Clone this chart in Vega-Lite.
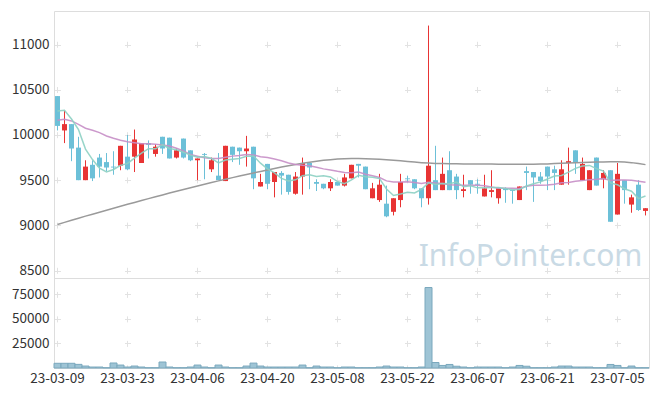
{
  "$schema": "https://vega.github.io/schema/vega-lite/v6.json",
  "padding": {"left": 0, "top": 10, "right": 9, "bottom": 0},
  "background": "white",
  "spacing": 0,
  "bounds": "flush",
  "config": {
    "view": {"stroke": "#dddddd"},
    "axis": {"labelFont": "Noto Sans CJK KR", "labelFontSize": 13.5, "labelColor": "#333333", "ticks": false, "domain": false, "title": null, "gridColor": "#e2e2e2", "gridWidth": 1}
  },
  "datasets": {
    "d": [
      {"d":"23-03-09","o":10430,"h":10430,"l":10050,"c":10100,"v":4800,"ma5":10265,"ma20":10162,"ma60":9010},
      {"d":"23-03-10","o":10050,"h":10270,"l":9910,"c":10120,"v":4800,"ma5":10273,"ma20":10173,"ma60":9033},
      {"d":"23-03-13","o":10120,"h":10120,"l":9710,"c":9850,"v":4800,"ma5":10176,"ma20":10155,"ma60":9056},
      {"d":"23-03-14","o":9860,"h":9980,"l":9500,"c":9500,"v":3700,"ma5":10059,"ma20":10118,"ma60":9079},
      {"d":"23-03-15","o":9500,"h":9720,"l":9500,"c":9650,"v":2000,"ma5":9844,"ma20":10074,"ma60":9102},
      {"d":"23-03-16","o":9670,"h":9720,"l":9490,"c":9520,"v":1000,"ma5":9728,"ma20":10052,"ma60":9124},
      {"d":"23-03-17","o":9750,"h":9790,"l":9530,"c":9650,"v":1000,"ma5":9632,"ma20":10026,"ma60":9146},
      {"d":"23-03-20","o":9700,"h":9800,"l":9600,"c":9640,"v":300,"ma5":9590,"ma20":9989,"ma60":9168},
      {"d":"23-03-21","o":9650,"h":9820,"l":9560,"c":9640,"v":5100,"ma5":9618,"ma20":9963,"ma60":9190},
      {"d":"23-03-22","o":9660,"h":9880,"l":9610,"c":9880,"v":3000,"ma5":9664,"ma20":9941,"ma60":9212},
      {"d":"23-03-23","o":9760,"h":10000,"l":9610,"c":9620,"v":1000,"ma5":9685,"ma20":9926,"ma60":9233},
      {"d":"23-03-24","o":9760,"h":10060,"l":9590,"c":9950,"v":2000,"ma5":9744,"ma20":9915,"ma60":9254},
      {"d":"23-03-27","o":9690,"h":9910,"l":9690,"c":9910,"v":1000,"ma5":9798,"ma20":9904,"ma60":9275},
      {"d":"23-03-28","o":9910,"h":9940,"l":9740,"c":9890,"v":300,"ma5":9848,"ma20":9904,"ma60":9296},
      {"d":"23-03-29","o":9790,"h":9900,"l":9760,"c":9870,"v":300,"ma5":9847,"ma20":9897,"ma60":9317},
      {"d":"23-03-30","o":9980,"h":9980,"l":9790,"c":9850,"v":6100,"ma5":9892,"ma20":9889,"ma60":9337},
      {"d":"23-03-31","o":9970,"h":9970,"l":9740,"c":9740,"v":1000,"ma5":9851,"ma20":9878,"ma60":9357},
      {"d":"23-04-03","o":9750,"h":9850,"l":9740,"c":9830,"v":300,"ma5":9836,"ma20":9853,"ma60":9377},
      {"d":"23-04-04","o":9960,"h":9960,"l":9740,"c":9750,"v":300,"ma5":9808,"ma20":9823,"ma60":9397},
      {"d":"23-04-05","o":9830,"h":9830,"l":9710,"c":9720,"v":1000,"ma5":9777,"ma20":9783,"ma60":9417},
      {"d":"23-04-06","o":9720,"h":9740,"l":9500,"c":9740,"v":3000,"ma5":9754,"ma20":9765,"ma60":9436},
      {"d":"23-04-07","o":9790,"h":9800,"l":9510,"c":9780,"v":1000,"ma5":9762,"ma20":9747,"ma60":9455},
      {"d":"23-04-10","o":9620,"h":9750,"l":9590,"c":9720,"v":300,"ma5":9740,"ma20":9741,"ma60":9474},
      {"d":"23-04-11","o":9550,"h":9800,"l":9500,"c":9500,"v":3000,"ma5":9690,"ma20":9741,"ma60":9492},
      {"d":"23-04-12","o":9490,"h":9880,"l":9490,"c":9880,"v":1000,"ma5":9723,"ma20":9753,"ma60":9510},
      {"d":"23-04-13","o":9870,"h":9870,"l":9700,"c":9780,"v":300,"ma5":9731,"ma20":9766,"ma60":9528},
      {"d":"23-04-14","o":9860,"h":9860,"l":9670,"c":9820,"v":300,"ma5":9740,"ma20":9774,"ma60":9546},
      {"d":"23-04-17","o":9820,"h":9990,"l":9650,"c":9850,"v":2000,"ma5":9765,"ma20":9785,"ma60":9563},
      {"d":"23-04-18","o":9870,"h":9870,"l":9400,"c":9520,"v":5000,"ma5":9768,"ma20":9779,"ma60":9580},
      {"d":"23-04-19","o":9430,"h":9570,"l":9430,"c":9480,"v":2000,"ma5":9688,"ma20":9759,"ma60":9597},
      {"d":"23-04-20","o":9680,"h":9680,"l":9400,"c":9460,"v":1000,"ma5":9625,"ma20":9751,"ma60":9613},
      {"d":"23-04-21","o":9480,"h":9590,"l":9310,"c":9590,"v":1000,"ma5":9580,"ma20":9733,"ma60":9629},
      {"d":"23-04-24","o":9580,"h":9600,"l":9340,"c":9550,"v":1000,"ma5":9520,"ma20":9715,"ma60":9645},
      {"d":"23-04-25","o":9560,"h":9560,"l":9340,"c":9370,"v":1000,"ma5":9491,"ma20":9689,"ma60":9660},
      {"d":"23-04-26","o":9350,"h":9590,"l":9340,"c":9540,"v":1000,"ma5":9504,"ma20":9673,"ma60":9674},
      {"d":"23-04-27","o":9540,"h":9750,"l":9340,"c":9690,"v":3000,"ma5":9550,"ma20":9665,"ma60":9687},
      {"d":"23-04-28","o":9690,"h":9690,"l":9400,"c":9640,"v":300,"ma5":9560,"ma20":9660,"ma60":9699},
      {"d":"23-05-02","o":9480,"h":9510,"l":9380,"c":9460,"v":2000,"ma5":9542,"ma20":9642,"ma60":9710},
      {"d":"23-05-03","o":9460,"h":9460,"l":9400,"c":9410,"v":1000,"ma5":9549,"ma20":9625,"ma60":9719},
      {"d":"23-05-04","o":9410,"h":9510,"l":9380,"c":9480,"v":1000,"ma5":9536,"ma20":9613,"ma60":9727},
      {"d":"23-05-08","o":9480,"h":9480,"l":9440,"c":9440,"v":300,"ma5":9485,"ma20":9598,"ma60":9733},
      {"d":"23-05-09","o":9440,"h":9570,"l":9430,"c":9530,"v":1000,"ma5":9462,"ma20":9585,"ma60":9737},
      {"d":"23-05-10","o":9520,"h":9670,"l":9520,"c":9670,"v":1000,"ma5":9504,"ma20":9583,"ma60":9739},
      {"d":"23-05-11","o":9680,"h":9680,"l":9530,"c":9660,"v":300,"ma5":9554,"ma20":9590,"ma60":9739},
      {"d":"23-05-12","o":9650,"h":9650,"l":9400,"c":9400,"v":300,"ma5":9538,"ma20":9566,"ma60":9738},
      {"d":"23-05-15","o":9300,"h":9470,"l":9300,"c":9410,"v":300,"ma5":9532,"ma20":9548,"ma60":9735},
      {"d":"23-05-16","o":9280,"h":9570,"l":9260,"c":9450,"v":1000,"ma5":9517,"ma20":9530,"ma60":9731},
      {"d":"23-05-17","o":9240,"h":9440,"l":9090,"c":9100,"v":2000,"ma5":9403,"ma20":9492,"ma60":9726},
      {"d":"23-05-18","o":9150,"h":9300,"l":9110,"c":9300,"v":1000,"ma5":9330,"ma20":9481,"ma60":9720},
      {"d":"23-05-19","o":9280,"h":9570,"l":9200,"c":9480,"v":1000,"ma5":9347,"ma20":9481,"ma60":9714},
      {"d":"23-05-22","o":9520,"h":9550,"l":9480,"c":9510,"v":300,"ma5":9367,"ma20":9483,"ma60":9707},
      {"d":"23-05-23","o":9510,"h":9510,"l":9400,"c":9410,"v":300,"ma5":9358,"ma20":9474,"ma60":9700},
      {"d":"23-05-24","o":9410,"h":9410,"l":9200,"c":9300,"v":1000,"ma5":9398,"ma20":9462,"ma60":9694},
      {"d":"23-05-25","o":9300,"h":11210,"l":9230,"c":9660,"v":82000,"ma5":9470,"ma20":9476,"ma60":9689},
      {"d":"23-05-26","o":9500,"h":9880,"l":9390,"c":9390,"v":5600,"ma5":9452,"ma20":9468,"ma60":9685},
      {"d":"23-05-30","o":9390,"h":9750,"l":9390,"c":9570,"v":2600,"ma5":9463,"ma20":9462,"ma60":9683},
      {"d":"23-05-31","o":9610,"h":9820,"l":9390,"c":9390,"v":3600,"ma5":9460,"ma20":9449,"ma60":9682},
      {"d":"23-06-01","o":9540,"h":9570,"l":9290,"c":9390,"v":1800,"ma5":9479,"ma20":9446,"ma60":9681},
      {"d":"23-06-02","o":9380,"h":9560,"l":9310,"c":9400,"v":1000,"ma5":9427,"ma20":9445,"ma60":9680},
      {"d":"23-06-05","o":9500,"h":9500,"l":9350,"c":9450,"v":300,"ma5":9438,"ma20":9444,"ma60":9680},
      {"d":"23-06-07","o":9460,"h":9510,"l":9350,"c":9450,"v":1000,"ma5":9415,"ma20":9444,"ma60":9679},
      {"d":"23-06-08","o":9320,"h":9560,"l":9320,"c":9410,"v":1000,"ma5":9417,"ma20":9438,"ma60":9678},
      {"d":"23-06-09","o":9370,"h":9610,"l":9310,"c":9390,"v":1000,"ma5":9418,"ma20":9424,"ma60":9678},
      {"d":"23-06-12","o":9300,"h":9410,"l":9240,"c":9410,"v":1000,"ma5":9420,"ma20":9412,"ma60":9677},
      {"d":"23-06-13","o":9410,"h":9420,"l":9250,"c":9390,"v":300,"ma5":9408,"ma20":9411,"ma60":9677},
      {"d":"23-06-14","o":9390,"h":9390,"l":9240,"c":9380,"v":1000,"ma5":9394,"ma20":9410,"ma60":9676},
      {"d":"23-06-15","o":9280,"h":9430,"l":9280,"c":9430,"v":2600,"ma5":9398,"ma20":9408,"ma60":9676},
      {"d":"23-06-16","o":9600,"h":9650,"l":9390,"c":9580,"v":1800,"ma5":9436,"ma20":9433,"ma60":9676},
      {"d":"23-06-19","o":9590,"h":9590,"l":9260,"c":9530,"v":300,"ma5":9461,"ma20":9444,"ma60":9677},
      {"d":"23-06-20","o":9540,"h":9590,"l":9460,"c":9490,"v":300,"ma5":9481,"ma20":9445,"ma60":9678},
      {"d":"23-06-21","o":9650,"h":9650,"l":9390,"c":9540,"v":300,"ma5":9513,"ma20":9446,"ma60":9680},
      {"d":"23-06-22","o":9620,"h":9660,"l":9390,"c":9580,"v":1000,"ma5":9545,"ma20":9455,"ma60":9683},
      {"d":"23-06-23","o":9450,"h":9720,"l":9450,"c":9620,"v":2000,"ma5":9552,"ma20":9471,"ma60":9686},
      {"d":"23-06-26","o":9690,"h":9860,"l":9450,"c":9710,"v":2000,"ma5":9589,"ma20":9474,"ma60":9689},
      {"d":"23-06-27","o":9830,"h":9830,"l":9570,"c":9690,"v":1000,"ma5":9630,"ma20":9489,"ma60":9692},
      {"d":"23-06-28","o":9500,"h":9750,"l":9500,"c":9680,"v":1000,"ma5":9657,"ma20":9495,"ma60":9695},
      {"d":"23-06-29","o":9390,"h":9610,"l":9390,"c":9610,"v":1000,"ma5":9663,"ma20":9506,"ma60":9698},
      {"d":"23-06-30","o":9750,"h":9750,"l":9440,"c":9440,"v":300,"ma5":9628,"ma20":9509,"ma60":9700},
      {"d":"23-07-03","o":9510,"h":9610,"l":9410,"c":9580,"v":300,"ma5":9600,"ma20":9517,"ma60":9702},
      {"d":"23-07-04","o":9610,"h":9610,"l":9040,"c":9040,"v":3600,"ma5":9470,"ma20":9497,"ma60":9703},
      {"d":"23-07-05","o":9120,"h":9690,"l":9120,"c":9570,"v":2600,"ma5":9449,"ma20":9503,"ma60":9703},
      {"d":"23-07-06","o":9500,"h":9500,"l":9240,"c":9390,"v":300,"ma5":9405,"ma20":9503,"ma60":9700},
      {"d":"23-07-07","o":9230,"h":9340,"l":9140,"c":9310,"v":2000,"ma5":9378,"ma20":9498,"ma60":9694},
      {"d":"23-07-10","o":9450,"h":9500,"l":9160,"c":9170,"v":300,"ma5":9296,"ma20":9487,"ma60":9684},
      {"d":"23-07-11","o":9160,"h":9190,"l":9110,"c":9190,"v":300,"ma5":9325,"ma20":9477,"ma60":9672}
    ]
  },
  "vconcat": [
    {
      "width": 595,
      "height": 267,
      "data": {"name": "d"},
      "encoding": {
        "x": {
          "field": "d", "type": "ordinal",
          "scale": {"paddingInner": 0, "paddingOuter": 0},
          "axis": {"labels": false, "grid": true, "bandPosition": 0.5, "gridDash": [6, 39.2], "gridDashOffset": 14.9, "minExtent": 0, "maxExtent": 0, "labelPadding": 0,
                   "values": ["23-03-09","23-03-23","23-04-06","23-04-20","23-05-08","23-05-22","23-06-07","23-06-21","23-07-05"]}
        }
      },
      "layer": [
        {
          "mark": {"type": "rule", "strokeWidth": 1},
          "encoding": {
            "y": {"field": "l", "type": "quantitative",
                  "scale": {"domain": [8418, 11371], "nice": false, "zero": false},
                  "axis": {"values": [8500, 9000, 9500, 10000, 10500, 11000], "format": "d", "grid": true, "gridDash": [6, 64], "gridDashOffset": 69.5, "labelPadding": 5, "minExtent": 53, "maxExtent": 53}},
            "y2": {"field": "h"},
            "color": {"condition": {"test": "datum.c >= datum.o", "value": "#e83434"}, "value": "#6cc0d8"}
          }
        },
        {
          "mark": {"type": "bar", "width": 5},
          "encoding": {
            "y": {"field": "o", "type": "quantitative"},
            "y2": {"field": "c"},
            "color": {"condition": {"test": "datum.c >= datum.o", "value": "#e83434"}, "value": "#6cc0d8"}
          }
        },
        {
          "mark": {"type": "line", "color": "#9a9a9a", "strokeWidth": 1.5},
          "encoding": {"y": {"field": "ma60", "type": "quantitative"}}
        },
        {
          "mark": {"type": "line", "color": "#c78ec7", "strokeWidth": 1.5, "opacity": 0.9},
          "encoding": {"y": {"field": "ma20", "type": "quantitative"}}
        },
        {
          "mark": {"type": "line", "color": "#8dd0c3", "strokeWidth": 1.5, "opacity": 0.9},
          "encoding": {"y": {"field": "ma5", "type": "quantitative"}}
        },
        {
          "data": {"values": [{"t": "InfoPointer.com", "d": "23-06-16", "y": 8555}]},
          "mark": {"type": "text", "font": "Noto Sans", "fontSize": 30, "color": "#c9dae5", "align": "center", "baseline": "alphabetic", "dx": 4},
          "encoding": {
            "y": {"field": "y", "type": "quantitative"},
            "text": {"field": "t"}
          }
        }
      ]
    },
    {
      "width": 595,
      "height": 90,
      "data": {"name": "d"},
      "mark": {"type": "bar", "fill": "#9ec4d5", "stroke": "#7aa8bd", "strokeWidth": 1},
      "encoding": {
        "x": {
          "field": "d", "type": "ordinal",
          "scale": {"paddingInner": 0, "paddingOuter": 0},
          "axis": {"labelAngle": 0, "labelPadding": 3, "grid": true, "bandPosition": 0.5, "gridDash": [6, 18.5], "gridDashOffset": 11.1,
                   "values": ["23-03-09","23-03-23","23-04-06","23-04-20","23-05-08","23-05-22","23-06-07","23-06-21","23-07-05"]}
        },
        "y": {
          "field": "v", "type": "quantitative",
          "scale": {"domain": [0, 91700], "nice": false},
          "axis": {"values": [25000, 50000, 75000], "format": "d", "grid": true, "gridDash": [6, 64], "gridDashOffset": 69.5, "labelPadding": 5, "minExtent": 53, "maxExtent": 53}
        }
      }
    }
  ]
}
